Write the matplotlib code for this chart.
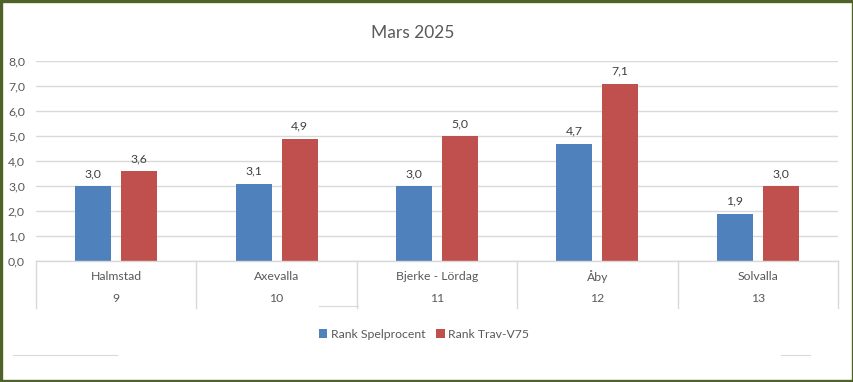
import numpy as np
import matplotlib.pyplot as plt
from matplotlib.patches import Rectangle
from matplotlib.lines import Line2D

# data
tracks = ["Halmstad", "Axevalla", "Bjerke - Lördag", "Åby", "Solvalla"]
weeks = ["9", "10", "11", "12", "13"]
rank_spel = [3.0, 3.1, 3.0, 4.7, 1.9]
rank_v75 = [3.6, 4.9, 5.0, 7.1, 3.0]
series_names = ["Rank Spelprocent", "Rank Trav-V75"]

W, H = 854, 382
blue = "#4F81BD"
red = "#C0504D"
grid_c = "#D9D9D9"
txt = "#595959"
fs = 8.8

plt.rcParams['font.family'] = ['Lato', 'DejaVu Sans']

fig = plt.figure(figsize=(W / 100, H / 100), dpi=100)
ax = fig.add_axes([36 / W, 1 - 261 / H, (838 - 36) / W, 200 / H])

x = np.arange(len(tracks))
bw = 0.224
off = 0.143
b1 = ax.bar(x - off, rank_spel, bw, color=blue, zorder=3, label=series_names[0])
b2 = ax.bar(x + off, rank_v75, bw, color=red, zorder=3, label=series_names[1])

def fmt(v):
    return f"{v:.1f}".replace(".", ",")

for bars, vals in ((b1, rank_spel), (b2, rank_v75)):
    for r, v in zip(bars, vals):
        ax.annotate(fmt(v), (r.get_x() + r.get_width() / 2, v), xytext=(0, 5),
                    textcoords="offset points", ha="center", va="bottom",
                    fontsize=fs, color="#404040")

ax.set_xlim(-0.5, len(tracks) - 0.5)
ax.set_ylim(0, 8)
ax.set_yticks(np.arange(0, 9, 1))
ax.set_yticklabels([fmt(v) for v in np.arange(0, 9, 1)], fontsize=fs, color=txt)
ax.tick_params(axis="y", length=0, pad=8)
ax.set_xticks([])
ax.grid(axis="y", color=grid_c, linewidth=1, zorder=0)
for s in ax.spines.values():
    s.set_visible(False)

# two-level category axis drawn as a small table
trans = ax.get_xaxis_transform()
ax.add_line(Line2D([-0.5, len(tracks) - 0.5], [0, 0], transform=trans, color=grid_c,
                   lw=1, clip_on=False, zorder=4))
for xv in np.arange(-0.5, len(tracks), 1):
    ax.add_line(Line2D([xv, xv], [0, -0.235], transform=trans, color=grid_c,
                       lw=1, clip_on=False))
for i in range(len(tracks)):
    ax.text(i, -0.08, tracks[i], transform=trans, ha="center", va="center",
            fontsize=fs, color=txt)
    ax.text(i, -0.19, weeks[i], transform=trans, ha="center", va="center",
            fontsize=fs, color=txt)

fig.text(413 / W, 1 - 33 / H, "Mars 2025", ha="center", va="center",
         fontsize=12.5, color=txt)

leg = fig.legend(handles=[b1, b2], labels=series_names, loc="center",
                 bbox_to_anchor=(424 / W, 1 - 334 / H), ncol=2, frameon=False,
                 fontsize=fs, handlelength=0.7, handleheight=0.7,
                 handletextpad=0.3, columnspacing=0.9, labelcolor=txt)

# stray grey segments in the original
for (x0, x1, yy) in [(319, 358, 306), (13, 71, 355), (72, 117, 355), (781, 810, 355)]:
    fig.add_artist(Line2D([x0 / W, x1 / W], [1 - yy / H, 1 - yy / H],
                          color=grid_c, lw=0.8))

# outer olive frame
fig.add_artist(Rectangle((0.0015, 0.003), 0.997, 0.994, transform=fig.transFigure,
                         fill=False, edgecolor="#4F6228", linewidth=2.4))

fig.savefig("out.png", dpi=100)
